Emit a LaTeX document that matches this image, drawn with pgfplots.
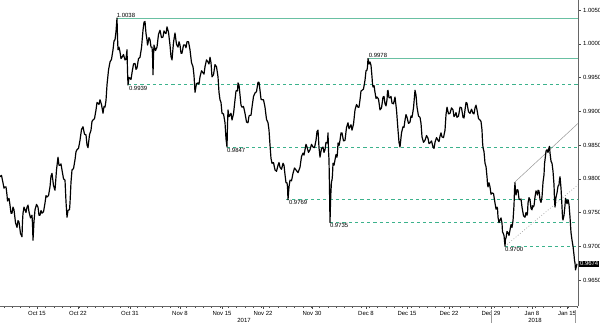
\documentclass[border=0pt]{standalone}
\usepackage{fontspec}
\setmainfont{Liberation Sans}
\usepackage{pgfplots}
\usepackage{pgfplotstable}
\pgfplotsset{compat=1.18}
\definecolor{lvl}{RGB}{105,192,162}
\definecolor{lvld}{RGB}{60,178,140}
\definecolor{trend}{RGB}{150,150,150}
\newcommand{\lbl}{\fontsize{6}{7}\selectfont}
\pgfplotstableread{
x y
0 0.9803
1.5 0.9805
3 0.9794
4 0.9786
5 0.9788
6 0.9788
7 0.9776
7.5 0.9767
8 0.9769
9 0.9771
10 0.9761
11 0.9749
12 0.9749
13 0.9758
14 0.9754
15.5 0.9735
17 0.9728
18 0.9738
19 0.9736
20.5 0.9719
22 0.9714
22.5 0.9737
23 0.9749
24 0.9758
25 0.9754
26 0.9750
27 0.9758
28 0.9761
29 0.9751
30.5 0.9742
32 0.9746
32.5 0.9733
33 0.9709
34 0.9737
35 0.9754
36.5 0.9762
38 0.9758
39 0.9746
40 0.9746
41 0.9753
42 0.9749
43.5 0.9751
45 0.9764
46 0.9775
47 0.9773
48.5 0.9775
50 0.9788
51 0.9804
52 0.9808
53.5 0.9790
55 0.9783
56.5 0.9813
58 0.9832
59 0.9820
60 0.9820
61 0.9822
62 0.9813
63.5 0.9800
65 0.9798
66 0.9766
67 0.9743
68 0.9753
69 0.9754
69.5 0.9754
70 0.9764
71 0.9795
72 0.9813
73.5 0.9815
75 0.9828
76 0.9840
77 0.9843
78.5 0.9845
80 0.9857
81.5 0.9873
83 0.9877
84.5 0.9866
86 0.9865
87 0.9850
88 0.9846
89.5 0.9865
91 0.9872
92 0.9885
93 0.9887
94.5 0.9889
96 0.9902
97 0.9913
98 0.9912
99 0.9910
100 0.9917
101.5 0.9910
103 0.9897
104 0.9907
105 0.9906
106 0.9916
107 0.9939
108.5 0.9961
110 0.9973
111.5 0.9977
113 0.9991
114 1.0004
115 1.0006
116 1.0018
117 1.0038
117.5 1.0010
118 0.9991
119 0.9995
120 0.9988
121 0.9978
122 0.9980
123.5 0.9984
125 0.9976
126 0.9977
127 0.9991
127.5 0.9960
128 0.9939
129 0.9950
130 0.9949
131 0.9947
132 0.9957
133.5 0.9970
135 0.9971
136 0.9962
137 0.9964
138.5 0.9978
140 0.9980
141.5 0.9994
143 1.0020
144 1.0032
145 1.0033
146 1.0015
147 1.0006
147.5 0.9998
148 1.0001
149 1.0009
150 1.0006
151 0.9995
152 0.9995
152.5 0.9985
153 0.9954
153.5 0.9982
154 0.9998
155.5 0.9990
157 0.9995
158.5 1.0014
160 1.0020
161.5 1.0009
163 1.0010
164 1.0019
165 1.0016
166 1.0015
167 1.0025
168.5 1.0017
170 0.9998
171 0.9981
172 0.9976
173.5 1.0002
175 1.0016
176.5 0.9999
178 0.9995
179 1.0003
180 0.9998
181 0.9986
182 0.9986
183.5 0.9998
185 0.9998
186 0.9994
187 1.0003
188.5 1.0003
190 0.9991
191.5 0.9972
193 0.9966
194 0.9953
195 0.9928
196.5 0.9941
198 0.9942
199 0.9940
200 0.9951
201.5 0.9960
203 0.9957
204 0.9955
205 0.9966
206.5 0.9976
208 0.9973
209 0.9970
210 0.9980
211 0.9972
212 0.9951
213.5 0.9954
215 0.9969
216.5 0.9966
218 0.9951
219 0.9928
220 0.9917
221 0.9913
222 0.9897
223.5 0.9896
225 0.9883
226 0.9859
227 0.9847
227.5 0.9880
228 0.9902
229 0.9892
230 0.9894
231 0.9897
232 0.9887
233.5 0.9896
235 0.9917
236 0.9930
237 0.9931
237.5 0.9930
238 0.9942
239 0.9939
240 0.9924
241 0.9909
242 0.9906
243.5 0.9907
245 0.9897
246.5 0.9884
248 0.9883
249 0.9893
250 0.9894
251 0.9894
252 0.9906
253.5 0.9922
255 0.9927
256.5 0.9929
258 0.9943
259 0.9943
260 0.9931
261 0.9918
262 0.9917
263.5 0.9917
265 0.9906
266.5 0.9888
268 0.9883
269 0.9872
270 0.9850
271 0.9830
272 0.9823
273.5 0.9824
275 0.9813
276.5 0.9811
278 0.9820
279 0.9824
280 0.9817
281.5 0.9814
283 0.9823
284 0.9820
285 0.9806
286 0.9794
287 0.9794
287.5 0.9788
288 0.9769
289 0.9788
290 0.9798
291.5 0.9797
293 0.9808
294.5 0.9816
296 0.9813
298 0.9809
300 0.9817
301.5 0.9833
303 0.9838
304 0.9835
305 0.9843
306 0.9851
307 0.9847
308.5 0.9839
310 0.9843
311.5 0.9851
313 0.9847
314.5 0.9846
316 0.9857
317 0.9870
318 0.9872
319 0.9846
320 0.9832
321.5 0.9845
323 0.9847
324 0.9839
325 0.9843
326 0.9854
327 0.9853
327.5 0.9855
328 0.9868
328.5 0.9842
329 0.9828
329.5 0.9785
330 0.9735
330.5 0.9765
331 0.9783
331.5 0.9796
332 0.9798
332.5 0.9806
333 0.9823
334 0.9820
335 0.9828
336 0.9836
337 0.9832
337.5 0.9839
338 0.9853
339 0.9849
340 0.9857
341 0.9868
342 0.9868
343.5 0.9856
345 0.9857
346.5 0.9876
348 0.9883
349 0.9874
350 0.9877
351 0.9880
352 0.9872
353.5 0.9881
355 0.9902
356.5 0.9910
358 0.9906
359 0.9906
360 0.9917
361 0.9930
362 0.9931
363.5 0.9933
365 0.9946
366 0.9960
367 0.9961
367.5 0.9966
368 0.9978
369 0.9970
370 0.9973
371 0.9968
372 0.9951
372.5 0.9940
373 0.9936
374 0.9938
375 0.9928
376 0.9919
377 0.9921
378.5 0.9918
380 0.9902
381.5 0.9905
383 0.9921
384 0.9922
385 0.9911
386 0.9908
387 0.9917
387.5 0.9930
388 0.9931
389 0.9920
390 0.9920
391 0.9922
392 0.9912
393.5 0.9911
395 0.9921
396.5 0.9902
398 0.9872
399 0.9854
400 0.9847
401.5 0.9868
403 0.9877
404 0.9876
405 0.9887
406 0.9895
407 0.9891
408.5 0.9882
410 0.9884
411 0.9893
412 0.9891
413.5 0.9905
415 0.9931
416 0.9924
417 0.9906
418.5 0.9893
420 0.9891
421 0.9882
422 0.9862
423.5 0.9854
425 0.9857
426.5 0.9864
428 0.9860
429 0.9852
430 0.9853
431.5 0.9856
433 0.9847
434 0.9845
435 0.9854
436.5 0.9861
438 0.9857
439 0.9855
440 0.9863
441 0.9868
442 0.9862
443.5 0.9861
445 0.9872
446 0.9895
447 0.9906
448.5 0.9896
450 0.9897
451.5 0.9905
453 0.9902
454 0.9892
455 0.9894
456 0.9898
457 0.9891
458.5 0.9893
460 0.9906
461.5 0.9905
463 0.9891
464 0.9890
465 0.9902
466 0.9913
467 0.9912
468.5 0.9899
470 0.9897
471.5 0.9903
473 0.9897
474 0.9896
475 0.9905
476 0.9909
477 0.9902
478.5 0.9889
480 0.9887
481 0.9885
482 0.9872
482.5 0.9855
483 0.9846
484 0.9840
485 0.9823
486 0.9818
487 0.9803
487.5 0.9792
488 0.9788
489 0.9794
490 0.9788
491 0.9777
492 0.9779
493.5 0.9778
495 0.9764
496 0.9755
497 0.9758
497.5 0.9756
498 0.9743
499 0.9735
500 0.9739
501 0.9742
502 0.9734
502.5 0.9721
503 0.9720
504 0.9716
505 0.9700
505.5 0.9712
506 0.9712
507 0.9722
508 0.9720
509 0.9716
510 0.9724
511 0.9732
512 0.9728
513 0.9738
514 0.9761
514.5 0.9784
515 0.9794
515.5 0.9779
516 0.9776
517 0.9784
518 0.9783
519 0.9770
520 0.9769
521 0.9770
522 0.9758
523.5 0.9745
525 0.9743
526 0.9750
527 0.9746
527.5 0.9749
528 0.9764
529 0.9772
530 0.9769
531 0.9756
532 0.9754
532.5 0.9760
533 0.9758
534 0.9760
535 0.9773
536 0.9782
537 0.9779
537.5 0.9776
538 0.9783
539 0.9782
540 0.9769
541 0.9765
542 0.9773
543 0.9795
544 0.9806
544.5 0.9822
545 0.9828
546 0.9841
547 0.9843
548 0.9839
549 0.9846
549.5 0.9848
550 0.9838
551 0.9826
552 0.9823
553 0.9811
554 0.9791
554.5 0.9768
555 0.9758
556 0.9773
557 0.9779
558 0.9789
559 0.9791
559.5 0.9799
560 0.9803
561 0.9786
562 0.9758
562.5 0.9742
563 0.9739
564 0.9746
565 0.9761
565.5 0.9771
566 0.9769
567 0.9763
568 0.9769
569 0.9762
570 0.9743
571 0.9720
572 0.9709
573 0.9700
574 0.9687
574.5 0.9679
575 0.9675
575.5 0.9665
576 0.9668
576.5 0.9671
577 0.9674
}\eurusd
\begin{document}
\begin{tikzpicture}[x=1bp,y=1bp]
\path[use as bounding box] (0,-17) rectangle (600,306);
\begin{axis}[
  at={(0,0)}, anchor=south west,
  width=578bp, height=306bp, scale only axis,
  xmin=0, xmax=578, ymin=0.96115, ymax=1.00648,
  axis y line*=right, axis x line*=bottom,
  axis line style={black!60, line width=0.5pt, -},
  tick align=outside,
  major tick length=2.5bp, minor tick length=2bp,
  tick style={black!70, line width=0.4pt},
  xtick={37,78,130,180,222,263,312,366,407,449,491,532,567},
  xticklabels={Oct 15,Oct 22,Oct 31,Nov 8,Nov 15,Nov 22,Nov 30,Dec 8,Dec 15,Dec 22,Dec 29,Jan 8,Jan 15},
  minor xtick={4,12.3,...,578},
  xticklabel style={font=\lbl, anchor=base, yshift=-7bp},
  ytick={0.965,0.970,0.975,0.980,0.985,0.990,0.995,1.000,1.005},
  yticklabel style={font=\lbl, anchor=west, xshift=-1bp,
    /pgf/number format/.cd, fixed, fixed zerofill, precision=4, assume math mode=true},
  clip=false,
]
\draw[lvl, line width=0.7pt] (117,1.0038) -- (578,1.0038);
\draw[lvl, line width=0.7pt] (368,0.9978) -- (578,0.9978);
\draw[lvld, line width=0.9pt, dash pattern=on 3.2bp off 3bp] (128,0.9939) -- (578,0.9939);
\draw[lvld, line width=0.9pt, dash pattern=on 3.2bp off 3bp] (227,0.9847) -- (578,0.9847);
\draw[lvld, line width=0.9pt, dash pattern=on 3.2bp off 3bp] (286,0.9769) -- (578,0.9769);
\draw[lvld, line width=0.9pt, dash pattern=on 3.2bp off 3bp] (330,0.9735) -- (578,0.9735);
\draw[lvld, line width=0.9pt, dash pattern=on 3.2bp off 3bp] (505,0.9700) -- (578,0.9700);
\draw[trend, line width=0.5pt] (514,0.9794) -- (578,0.9882);
\draw[trend, line width=0.6pt, dash pattern=on 0.8bp off 2bp] (505,0.9700) -- (578,0.9791);
\addplot[black, line width=1.2pt, line join=round, no markers] table {\eurusd};
\node[font=\lbl, anchor=south west, inner sep=0.6bp] at (116,1.0038) {1.0038};
\node[font=\lbl, anchor=south west, inner sep=0.6bp] at (368,0.9978) {0.9978};
\node[font=\lbl, anchor=north west, inner sep=0.8bp] at (128,0.9939) {0.9939};
\node[font=\lbl, anchor=north west, inner sep=0.8bp] at (226,0.9847) {0.9847};
\node[font=\lbl, anchor=north west, inner sep=0.8bp] at (288,0.9769) {0.9769};
\node[font=\lbl, anchor=north west, inner sep=0.8bp] at (329,0.9735) {0.9735};
\node[font=\lbl, anchor=north west, inner sep=0.8bp] at (504,0.9700) {0.9700};
\node[font=\lbl, fill=black, text=white, anchor=west, inner sep=0.8bp] at (579,0.9674) {0.9674};
\end{axis}
\draw[black!40, line width=0.4pt] (491,-4) -- (491,-17);
\draw[black!40, line width=0.4pt] (575,-4) -- (575,-17);
\node[font=\lbl, anchor=base] at (244,-16) {2017};
\node[font=\lbl, anchor=base] at (535,-16) {2018};
\end{tikzpicture}
\end{document}
